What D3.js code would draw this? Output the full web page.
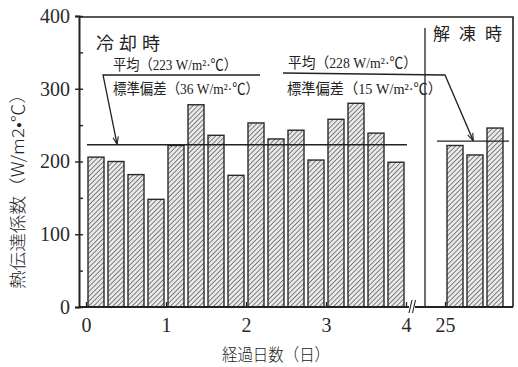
<!DOCTYPE html>
<html>
<head>
<meta charset="utf-8">
<script src="https://cdn.jsdelivr.net/npm/d3@7"></script>
<style>
  html, body { margin: 0; padding: 0; background: #fff; }
  svg { display: block; }
  .cjk { font-family: "Noto Sans CJK JP", sans-serif; fill: #222; }
  .note { font-family: "Liberation Serif", "Noto Sans CJK JP", serif; font-size: 14.5px; fill: #222; }
</style>
</head>
<body>
<svg id="chart" width="518" height="367"></svg>
<script>
// Cooling period: one bar every 6 hours over days 0–4
const coolStart = [0, 0.25, 0.5, 0.75, 1, 1.25, 1.5, 1.75, 2, 2.25, 2.5, 2.75, 3, 3.25, 3.5, 3.75];
const coolValues = [206, 200, 182, 148, 222, 278, 236, 181, 253, 231, 243, 202, 258, 280, 239, 199];
// Thawing period (day 25)
const thawStart = [25, 25.25, 25.5];
const thawValues = [222, 209, 246];
// Stated means and standard deviations (W/m²·℃)
const coolMean = 223, coolSd = 36;
const thawMean = 228, thawSd = 15;
// Axis ticks
const yMajor = [0, 100, 200, 300, 400];
const yMinor = [50, 150, 250, 350];
const coolTicks = [0, 1, 2, 3, 4];
const thawTicks = [25];
const step = 0.25;

const svg = d3.select("#chart");
const ink = "#222";

const y = d3.scaleLinear().domain([0, 400]).range([307, 16]);
const xCool = d3.scaleLinear().domain([0, 4]).range([86, 406]);
const xThaw = d3.scaleLinear().domain([25, 26]).range([445, 525]);
const axisX = 79, baseY = y(0), frameRight = 513, sepX = 425;

// diagonal hatching for bars
const defs = svg.append("defs");
const pat = defs.append("pattern")
  .attr("id", "hatch").attr("patternUnits", "userSpaceOnUse")
  .attr("width", 3.4).attr("height", 3.4)
  .attr("patternTransform", "rotate(45)");
pat.append("rect").attr("width", 3.4).attr("height", 3.4).attr("fill", "#e9e9e9");
pat.append("line").attr("x1", 0).attr("y1", 0).attr("x2", 0).attr("y2", 3.4)
  .attr("stroke", "#3a3a3a").attr("stroke-width", 1.2);

defs.append("marker").attr("id", "arrow")
  .attr("viewBox", "0 0 10 10").attr("refX", 9).attr("refY", 5)
  .attr("markerWidth", 6).attr("markerHeight", 6).attr("orient", "auto")
  .append("path").attr("d", "M0,1.5 L10,5 L0,8.5").attr("fill", "none")
  .attr("stroke", ink).attr("stroke-width", 1.4);

// bars
function drawBars(starts, values, x) {
  svg.append("g").selectAll("rect")
    .data(starts.map((t, i) => ({ t, v: values[i] })))
    .join("rect")
    .attr("x", d => x(d.t) + 2)
    .attr("width", d => x(d.t + step) - x(d.t) - 4)
    .attr("y", d => y(d.v))
    .attr("height", d => baseY - y(d.v))
    .attr("fill", "url(#hatch)")
    .attr("stroke", "#2a2a2a").attr("stroke-width", 1.4);
}
drawBars(coolStart, coolValues, xCool);
drawBars(thawStart, thawValues, xThaw);

// mean lines
svg.append("line").attr("x1", 87).attr("x2", 407)
  .attr("y1", y(coolMean)).attr("y2", y(coolMean))
  .attr("stroke", ink).attr("stroke-width", 1.4);
svg.append("line").attr("x1", 437).attr("x2", 509)
  .attr("y1", y(thawMean)).attr("y2", y(thawMean))
  .attr("stroke", ink).attr("stroke-width", 1.4);

// frame and divider
svg.append("path")
  .attr("d", `M${axisX},17 H${frameRight} V${baseY}`)
  .attr("fill", "none").attr("stroke", ink).attr("stroke-width", 1.6);
svg.append("line").attr("x1", sepX).attr("x2", sepX).attr("y1", 28).attr("y2", baseY)
  .attr("stroke", ink).attr("stroke-width", 1.3);

function styleTickText(g) {
  g.attr("font-family", "'Liberation Serif', serif").attr("font-size", 20);
  g.selectAll(".tick text")
    .attr("font-family", "'Liberation Serif', serif")
    .attr("font-size", 20).attr("fill", "#2a2a2a");
}

// y axis: outer major ticks with labels, inner major+minor ticks
const gy = svg.append("g").attr("transform", `translate(${axisX},0)`)
  .call(d3.axisLeft(y).tickValues(yMajor).tickSize(4).tickPadding(5).tickFormat(d3.format("d")));
gy.select(".domain").attr("stroke", ink).attr("stroke-width", 2);
gy.selectAll(".tick line").attr("stroke", ink).attr("stroke-width", 1.4);
styleTickText(gy);
const gyIn = svg.append("g").attr("transform", `translate(${axisX},0)`)
  .call(d3.axisRight(y).tickValues(yMajor.concat(yMinor)).tickSize(4).tickFormat(""));
gyIn.select(".domain").remove();
gyIn.selectAll(".tick line").attr("stroke", ink).attr("stroke-width", 1.4);

// x axes (ticks point up into the plot)
function xAxis(scale, ticks) {
  const g = svg.append("g").attr("transform", `translate(0,${baseY})`)
    .call(d3.axisBottom(scale).tickValues(ticks).tickSize(-5).tickPadding(11).tickFormat(d3.format("d")));
  g.select(".domain").remove();
  g.selectAll(".tick line").attr("stroke", ink).attr("stroke-width", 1.3);
  styleTickText(g);
  return g;
}
xAxis(xCool, coolTicks);
xAxis(xThaw, thawTicks);
svg.append("line").attr("x1", axisX).attr("x2", frameRight).attr("y1", baseY).attr("y2", baseY)
  .attr("stroke", ink).attr("stroke-width", 2);

// axis break mark
svg.append("rect").attr("x", 409).attr("y", baseY - 2).attr("width", 6).attr("height", 4).attr("fill", "#fff");
svg.append("path")
  .attr("d", `M409,${baseY + 6} L412,${baseY - 7} M412.5,${baseY + 6} L415.5,${baseY - 7}`)
  .attr("stroke", ink).attr("stroke-width", 1.1).attr("fill", "none");

// period titles
svg.append("text").attr("class", "cjk").attr("x", 96).attr("y", 50)
  .attr("font-size", 18).attr("font-weight", 400).attr("letter-spacing", 5).text("冷却時");
svg.append("text").attr("class", "cjk").attr("x", 433).attr("y", 40)
  .attr("font-size", 17).attr("font-weight", 400).attr("letter-spacing", 9).text("解凍時");

// statistic notes
function note(x, yPos, label, value, width) {
  svg.append("text").attr("class", "note").attr("x", x).attr("y", yPos)
    .attr("textLength", width).attr("lengthAdjust", "spacingAndGlyphs")
    .text(`${label}（${value} W/m²·℃）`);
}
note(113, 70, "平均", coolMean, 124);
note(113, 94, "標準偏差", coolSd, 146);
note(288, 68, "平均", thawMean, 129);
note(287, 94, "標準偏差", thawSd, 155);

// leader lines pointing to the mean lines
svg.append("path").attr("d", `M260,75 H103 L117,${y(coolMean) - 1}`)
  .attr("fill", "none").attr("stroke", ink).attr("stroke-width", 1.3).attr("marker-end", "url(#arrow)");
svg.append("path").attr("d", `M283,73 L445,75 L473,${y(thawMean) - 1}`)
  .attr("fill", "none").attr("stroke", ink).attr("stroke-width", 1.3).attr("marker-end", "url(#arrow)");

// axis titles
svg.append("text").attr("class", "cjk").attr("font-size", 17).attr("font-weight", 300)
  .attr("transform", "translate(24,187) rotate(-90)")
  .attr("text-anchor", "middle").attr("textLength", 204).attr("lengthAdjust", "spacingAndGlyphs")
  .text("熱伝達係数（W/m2•℃）");
svg.append("text").attr("class", "cjk").attr("font-size", 17).attr("font-weight", 300)
  .attr("x", 276).attr("y", 361).attr("text-anchor", "middle")
  .attr("textLength", 108).attr("lengthAdjust", "spacingAndGlyphs")
  .text("経過日数（日）");
</script>
</body>
</html>
